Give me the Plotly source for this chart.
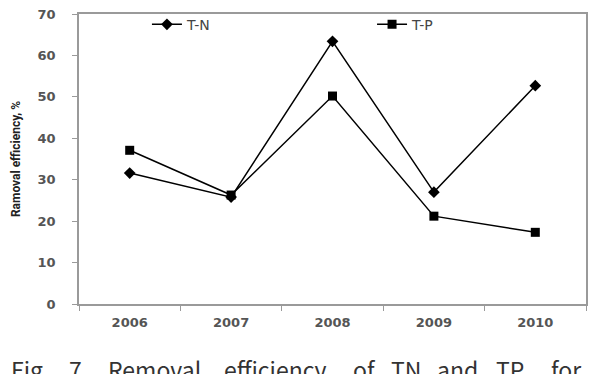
import plotly.graph_objects as go

years = ["2006", "2007", "2008", "2009", "2010"]
tn = [31.6, 25.8, 63.4, 27.0, 52.7]
tp = [37.1, 26.3, 50.2, 21.2, 17.3]
y_ticks = [0, 10, 20, 30, 40, 50, 60, 70]
caption_words = ["Fig.", "7.", "Removal", "efficiency", "of", "TN", "and", "TP,", "for"]
caption_word_x = [10, 68, 107, 223, 352, 390, 436, 495, 550]

fig = go.Figure()
fig.add_trace(go.Scatter(x=years, y=tn, name="T-N", mode="lines+markers",
                         line=dict(color="black", width=1.5),
                         marker=dict(symbol="diamond", size=9, color="black"),
                         legend="legend"))
fig.add_trace(go.Scatter(x=years, y=tp, name="T-P", mode="lines+markers",
                         line=dict(color="black", width=1.5),
                         marker=dict(symbol="square", size=9, color="black"),
                         legend="legend2"))

tickfont = dict(family="DejaVu Sans", size=13, color="#555555", weight="bold")
legfont = dict(family="DejaVu Sans", size=14, color="#444444")

fig.update_layout(
    width=598, height=374,
    margin=dict(l=79, r=12, t=7, b=70),
    paper_bgcolor="white", plot_bgcolor="white",
    showlegend=True,
    legend=dict(x=0.134, y=0.963, xanchor="left", yanchor="middle",
                font=legfont, bgcolor="rgba(0,0,0,0)"),
    legend2=dict(x=0.578, y=0.963, xanchor="left", yanchor="middle",
                 font=legfont, bgcolor="rgba(0,0,0,0)"),
    xaxis=dict(type="category", range=[-0.5, 4.5], tickson="boundaries",
               showline=True, linecolor="#9a9a9a", linewidth=1.5, mirror=True,
               ticks="outside", ticklen=5, tickcolor="#9a9a9a",
               ticklabelstandoff=6,
               showgrid=False, tickfont=tickfont, zeroline=False),
    yaxis=dict(range=[0, 70], tickvals=y_ticks,
               showline=True, linecolor="#9a9a9a", linewidth=1.5, mirror=True,
               ticks="outside", ticklen=5, tickcolor="#9a9a9a",
               ticklabelstandoff=14,
               showgrid=False, zeroline=False, tickfont=tickfont,
               title=dict(text="Ramoval efficiency, %", standoff=14,
                          font=dict(family="Roboto", size=12,
                                    color="#222222", weight="bold"))),
)

for word, px in zip(caption_words, caption_word_x):
    fig.add_annotation(text=word, xref="paper", yref="paper",
                       x=(px - 79) / 507, y=-0.16, xanchor="left", yanchor="top",
                       showarrow=False, xshift=-1,
                       font=dict(family="Noto Sans CJK KR", size=23, color="#333333"))

fig.write_html("out.html")
